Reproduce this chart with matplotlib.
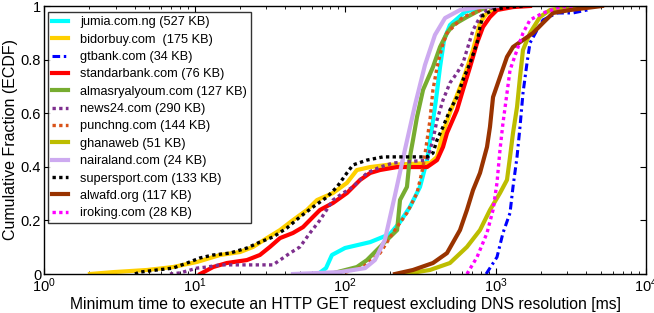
import matplotlib
matplotlib.use("Agg")
import matplotlib.pyplot as plt
from matplotlib.ticker import FixedLocator, FuncFormatter, LogLocator, NullFormatter

plt.rcParams['font.family'] = ['Liberation Sans', 'DejaVu Sans']

# ---- data (ms, ECDF fraction) ----
jumia_x = [66.2, 74.8, 81.9, 100, 147, 199, 232, 270, 315, 351, 379, 402, 428, 455, 498, 627, 852]
jumia_y = [0, 0.022, 0.071, 0.097, 0.119, 0.149, 0.194, 0.250, 0.325, 0.425, 0.549, 0.649, 0.772, 0.873, 0.929, 0.978, 1.0]

bidorbuy_x = [2.02, 2.87, 4.84, 7.20, 10.4, 14.8, 20.1, 24.5, 30.3, 37.0, 45.1, 55.9, 65.2, 83.2, 103, 120, 147, 190, 367, 409, 448, 498, 608, 709, 789, 878, 1023, 1249]
bidorbuy_y = [0, 0.007, 0.015, 0.026, 0.045, 0.071, 0.082, 0.101, 0.134, 0.164, 0.201, 0.239, 0.276, 0.302, 0.340, 0.388, 0.399, 0.407, 0.414, 0.437, 0.526, 0.601, 0.724, 0.836, 0.937, 0.974, 0.993, 1.0]

gtbank_x = [866, 1023, 1121, 1249, 1307, 1390, 1455, 1523, 1619, 1695, 1887, 2068, 2563, 3273, 4055, 4375]
gtbank_y = [0, 0.063, 0.153, 0.228, 0.325, 0.437, 0.549, 0.675, 0.787, 0.862, 0.910, 0.948, 0.974, 0.974, 0.985, 1.0]

standardbank_x = [10.9, 13.3, 16.4, 22.3, 27.2, 31.7, 37.0, 45.1, 52.6, 61.3, 68.2, 83.2, 103, 126, 147, 171, 222, 351, 409, 448, 476, 555, 608, 677, 754, 826, 919, 1023, 1307, 1695]
standardbank_y = [0, 0.026, 0.041, 0.052, 0.071, 0.101, 0.134, 0.153, 0.175, 0.213, 0.239, 0.265, 0.302, 0.351, 0.377, 0.388, 0.399, 0.399, 0.425, 0.474, 0.526, 0.612, 0.687, 0.772, 0.862, 0.922, 0.959, 0.985, 0.996, 1.0]

almasry_x = [79.5, 120, 140, 190, 222, 232, 258, 270, 283, 301, 330, 384, 428, 476, 522, 646, 789, 919]
almasry_y = [0, 0.026, 0.052, 0.127, 0.164, 0.276, 0.325, 0.437, 0.500, 0.586, 0.687, 0.772, 0.847, 0.899, 0.929, 0.959, 0.985, 1.0]

news24_x = [6.87, 8.01, 10.4, 12.1, 14.8, 33.2, 37.0, 43.1, 50.2, 58.5, 68.2, 83.2, 97, 113, 140, 171, 208, 351, 384, 409, 448, 498, 555, 608, 646, 677, 709, 789, 878, 1023]
news24_y = [0, 0.004, 0.022, 0.026, 0.034, 0.034, 0.052, 0.078, 0.101, 0.153, 0.201, 0.276, 0.302, 0.325, 0.377, 0.399, 0.414, 0.425, 0.500, 0.575, 0.649, 0.713, 0.750, 0.787, 0.836, 0.873, 0.910, 0.959, 0.985, 1.0]

punchng_x = [73.6, 97, 132, 171, 208, 258, 301, 330, 351, 367, 384, 409, 441, 476, 608, 754, 878]
punchng_y = [0, 0.004, 0.026, 0.078, 0.153, 0.228, 0.302, 0.399, 0.500, 0.575, 0.687, 0.772, 0.847, 0.899, 0.959, 0.978, 1.0]

ghanaweb_x = [250, 367, 498, 646, 789, 919, 1071, 1192, 1249, 1307, 1390, 1455, 1523, 1695, 1975, 2302, 3126, 3815]
ghanaweb_y = [0, 0.015, 0.041, 0.101, 0.164, 0.239, 0.302, 0.351, 0.437, 0.526, 0.623, 0.735, 0.836, 0.899, 0.959, 0.985, 0.996, 1.0]

nairaland_x = [45.1, 92.6, 136, 158, 184, 215, 250, 292, 340, 396, 462, 581, 789, 1071]
nairaland_y = [0, 0.007, 0.022, 0.052, 0.127, 0.295, 0.463, 0.631, 0.780, 0.892, 0.955, 0.985, 0.996, 1.0]

supersport_x = [4.02, 4.34, 5.63, 7.20, 8.92, 10.9, 13.3, 17.2, 22.3, 27.2, 33.2, 41.2, 50.2, 61.3, 75.9, 88.5, 103, 113, 140, 179, 351, 384, 409, 448, 498, 555, 608, 677, 754, 789, 826, 963, 1192, 1523]
supersport_y = [0, 0.007, 0.015, 0.022, 0.041, 0.060, 0.071, 0.078, 0.097, 0.119, 0.138, 0.172, 0.213, 0.250, 0.287, 0.325, 0.377, 0.407, 0.425, 0.437, 0.437, 0.451, 0.500, 0.549, 0.612, 0.660, 0.724, 0.787, 0.862, 0.922, 0.966, 0.985, 0.996, 1.0]

alwafd_x = [215, 283, 384, 476, 581, 646, 709, 789, 878, 919, 963, 1071, 1192, 1307, 1523, 1775, 2068, 2410, 3126, 4055, 5100]
alwafd_y = [0, 0.015, 0.041, 0.078, 0.164, 0.239, 0.313, 0.377, 0.474, 0.549, 0.660, 0.735, 0.810, 0.847, 0.873, 0.899, 0.937, 0.974, 0.985, 0.993, 1.0]

iroking_x = [646, 754, 878, 963, 1023, 1071, 1121, 1192, 1249, 1390, 1523, 1695, 2068, 2683, 3350]
iroking_y = [0, 0.063, 0.153, 0.239, 0.340, 0.463, 0.563, 0.675, 0.761, 0.836, 0.899, 0.948, 0.974, 0.996, 1.0]

labels = ["jumia.com.ng (527 KB)", "bidorbuy.com  (175 KB)", "gtbank.com (34 KB)",
          "standarbank.com (76 KB)", "almasryalyoum.com (127 KB)", "news24.com (290 KB)",
          "punchng.com (144 KB)", "ghanaweb (51 KB)", "nairaland.com (24 KB)",
          "supersport.com (133 KB)", "alwafd.org (117 KB)", "iroking.com (28 KB)"]

series = [(jumia_x, jumia_y), (bidorbuy_x, bidorbuy_y), (gtbank_x, gtbank_y),
          (standardbank_x, standardbank_y), (almasry_x, almasry_y), (news24_x, news24_y),
          (punchng_x, punchng_y), (ghanaweb_x, ghanaweb_y), (nairaland_x, nairaland_y),
          (supersport_x, supersport_y), (alwafd_x, alwafd_y), (iroking_x, iroking_y)]

colors = ["#00FFFF", "#FFD000", "#0000FF", "#FF0000", "#77AC30", "#7E2F8E",
          "#D95319", "#BDBD00", "#CDAAF0", "#000000", "#993300", "#FF00FF"]
dot = (0, (1, 1))
styles = ["-", "-", (0, (2.5, 1.2, 0.8, 1.2)), "-", "-", dot, dot, "-", "-", dot, "-", dot]
widths = [3.0, 3.0, 2.2, 3.0, 3.0, 2.4, 2.4, 3.0, 3.0, 2.4, 3.0, 2.4]

fig = plt.figure(figsize=(6.54, 3.13), dpi=100)
ax = fig.add_axes([44/654, 39/313, 602/654, 268/313])

for (xs, ys), lab, c, ls, lw in zip(series, labels, colors, styles, widths):
    ax.plot(xs, ys, color=c, linestyle=ls, linewidth=lw, label=lab)

ax.set_xscale("log")
ax.set_xlim(1, 1e4)
ax.set_ylim(0, 1)
ax.yaxis.set_major_locator(FixedLocator([0, 0.2, 0.4, 0.6, 0.8, 1.0]))
ax.yaxis.set_major_formatter(FuncFormatter(lambda v, p: "%g" % v))
ax.xaxis.set_major_locator(LogLocator(base=10, numticks=10))
ax.xaxis.set_minor_locator(LogLocator(base=10, subs=range(2, 10), numticks=100))
ax.xaxis.set_minor_formatter(NullFormatter())
ax.tick_params(which="both", direction="in", top=True, right=True, labelsize=10.5, pad=2)
ax.tick_params(which="major", length=4)
ax.tick_params(which="minor", length=2)
for s in ax.spines.values():
    s.set_linewidth(1.0)

ax.set_xlabel("Minimum time to execute an HTTP GET request excluding DNS resolution [ms]", fontsize=11.3, labelpad=1)
ax.set_ylabel("Cumulative Fraction (ECDF)", fontsize=11.5, labelpad=2)

leg = ax.legend(loc="upper left", bbox_to_anchor=(0.0066, 0.976), borderaxespad=0,
                fontsize=9.2, frameon=True, fancybox=False, edgecolor="black",
                handlelength=1.3, handletextpad=0.9, labelspacing=0.42, borderpad=0.3)
leg.get_frame().set_linewidth(1.0)

fig.savefig("out.png", dpi=100)
